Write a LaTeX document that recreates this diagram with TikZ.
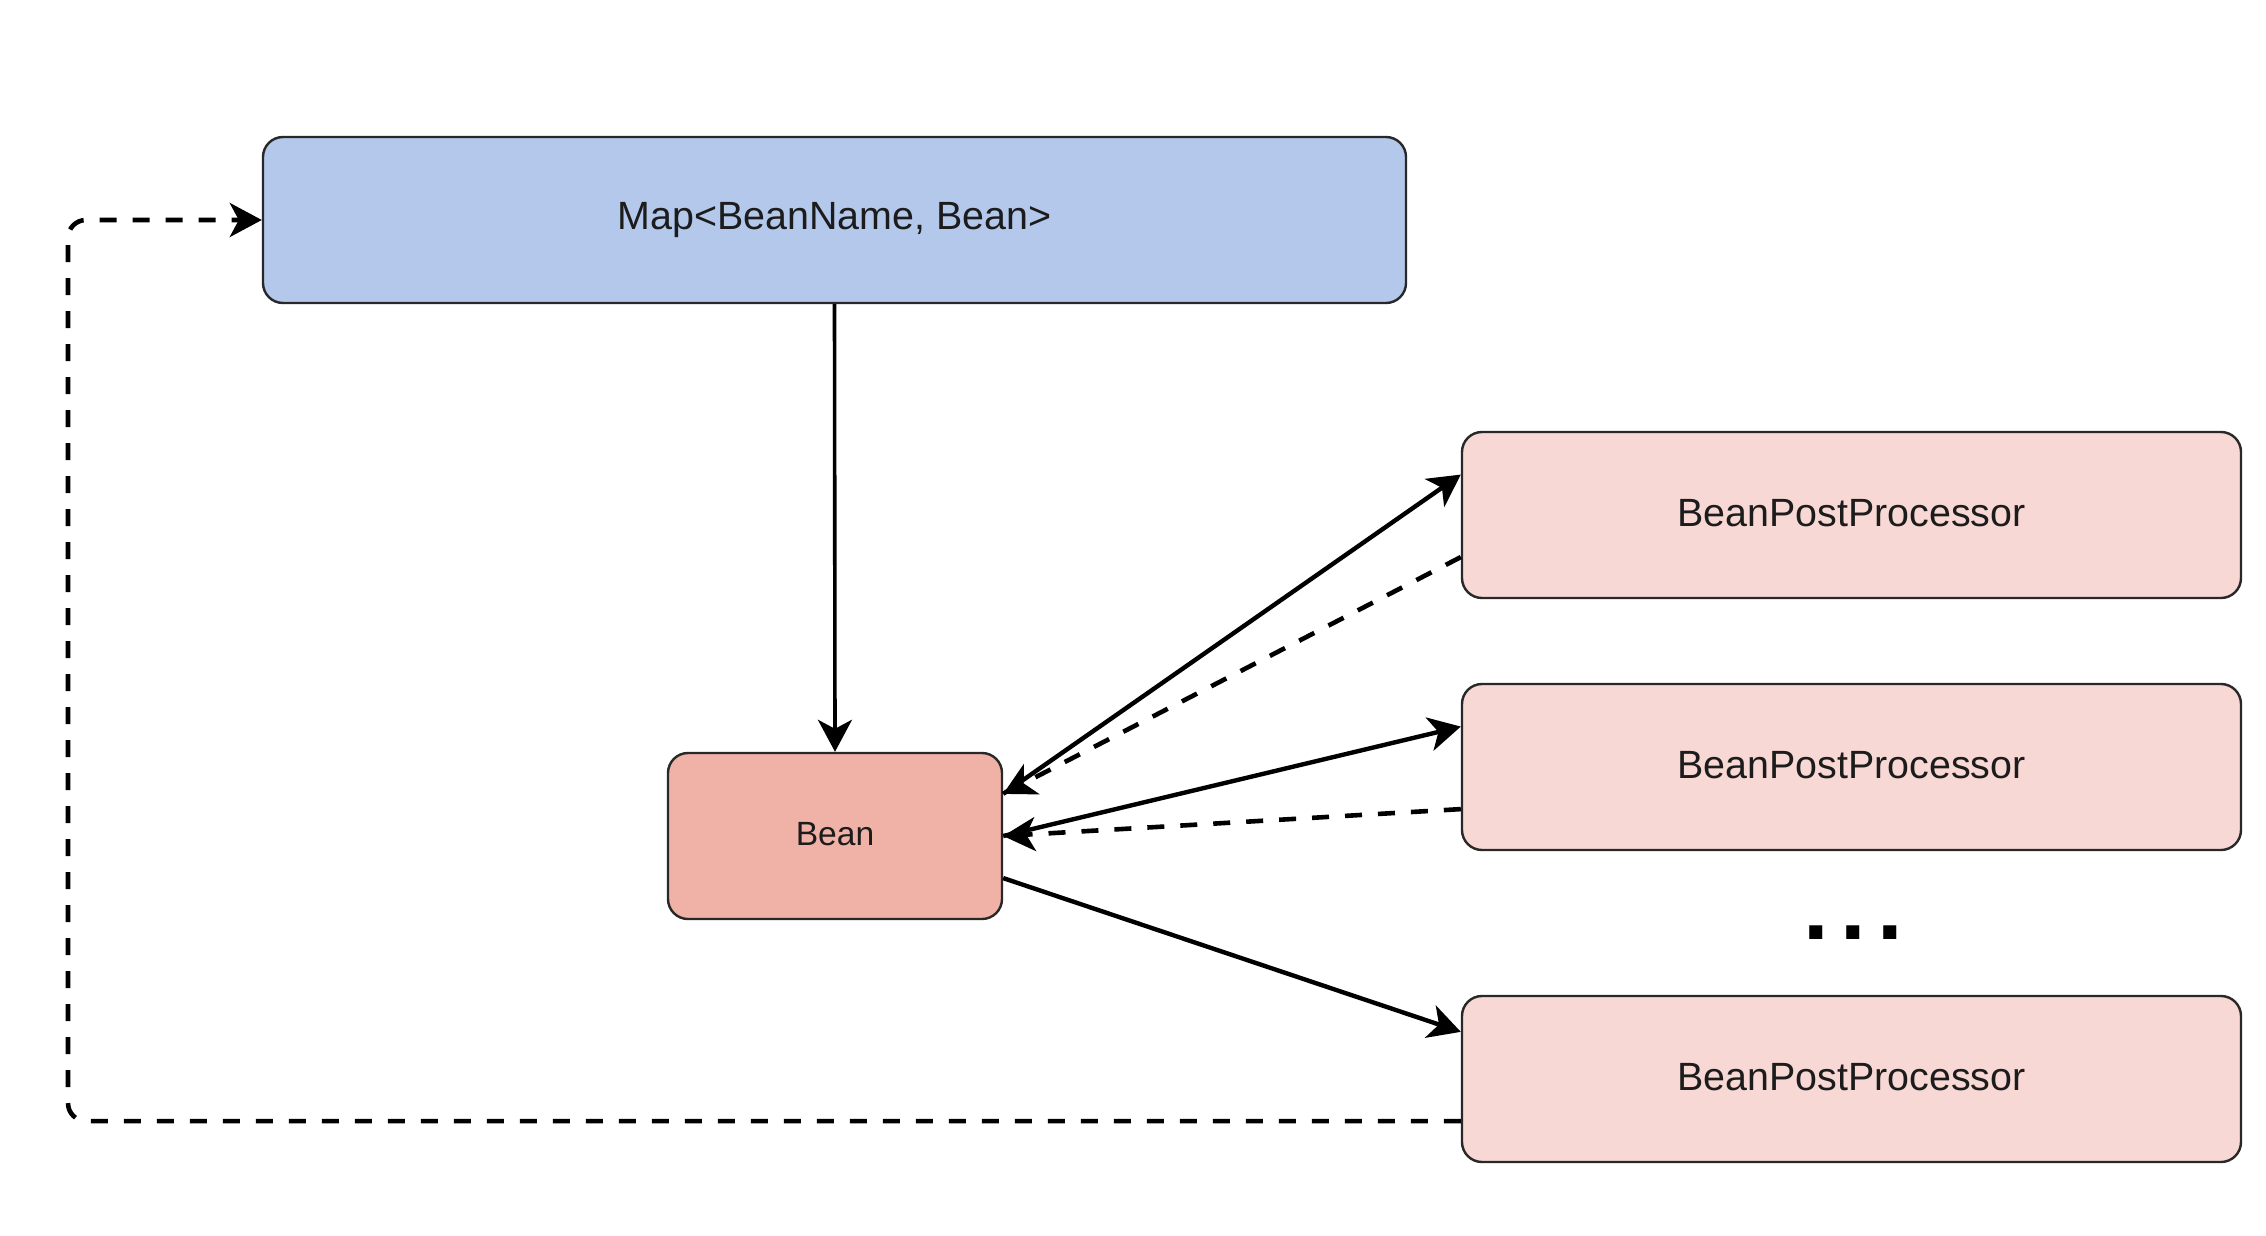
\documentclass[tikz,border=0pt]{standalone}
\usepackage{fontspec}
\setmainfont{Liberation Sans}
\usetikzlibrary{arrows.meta,calc}
\definecolor{mapfill}{RGB}{180,200,236}
\definecolor{beanfill}{RGB}{240,178,166}
\definecolor{bppfill}{RGB}{248,216,212}
\definecolor{boxline}{RGB}{40,40,40}
\definecolor{txt}{RGB}{28,28,28}
\begin{document}
\begin{tikzpicture}[x=0.5pt,y=-0.5pt,
  box/.style={draw=boxline, line width=1.2pt, rounded corners=10pt, inner sep=0pt, text=txt,
              font=\fontsize{19.7pt}{24pt}\selectfont},
  bppbox/.style={box, fill=bppfill, minimum width=389.5pt, minimum height=83pt},
  tip/.style={-{Stealth[length=16pt,width=17pt,inset=4.5pt]}},
  solidline/.style={line width=2.2pt},
  dashline/.style={line width=2.3pt, dash pattern=on 8.5pt off 8pt},
]
\useasboundingbox[fill=white] (0,0) rectangle (2266,1236);

\node[box, fill=mapfill, minimum width=571.5pt, minimum height=83pt] (map) at (834.5,220) {\raisebox{1.5pt}{Map<BeanName, Bean>}};
\node[box, fill=beanfill, minimum width=167pt, minimum height=83pt,
      font=\fontsize{16.8pt}{20pt}\selectfont] (bean) at (835,836) {\raisebox{2pt}{Bean}};
\node[bppbox] (bpp1) at (1851.5,515) {\raisebox{2pt}{BeanPostProcessor}};
\node[bppbox] (bpp2) at (1851.5,767) {\raisebox{2pt}{BeanPostProcessor}};
\node[bppbox] (bpp3) at (1851.5,1079) {\raisebox{2pt}{BeanPostProcessor}};
\node[text=black, inner sep=0pt, font=\bfseries\fontsize{46pt}{46pt}\selectfont] (dots) at (1853,933) {.\hspace{5.7pt}.\hspace{5.7pt}.};

\coordinate (b1) at ($(bean.north east)!0.25!(bean.south east)$);
\coordinate (b2) at ($(bean.north east)!0.5!(bean.south east)$);
\coordinate (b3) at ($(bean.north east)!0.75!(bean.south east)$);
\coordinate (p1a) at ($(bpp1.north west)!0.26!(bpp1.south west)$);
\coordinate (p1b) at ($(bpp1.north west)!0.75!(bpp1.south west)$);
\coordinate (p2a) at ($(bpp2.north west)!0.26!(bpp2.south west)$);
\coordinate (p2b) at ($(bpp2.north west)!0.75!(bpp2.south west)$);
\coordinate (p3a) at ($(bpp3.north west)!0.22!(bpp3.south west)$);
\coordinate (p3b) at ($(bpp3.north west)!0.75!(bpp3.south west)$);
\coordinate (lc) at (68,220);

\draw[line width=1.8pt, tip] (map.south) -- (bean.north);
\draw[solidline, tip] (b1) -- (p1a);
\draw[dashline, tip] (p1b) -- (b1);
\draw[solidline, tip] (b2) -- (p2a);
\draw[dashline, tip] (p2b) -- (b2);
\draw[solidline, tip] (b3) -- (p3a);
\draw[dashline, tip, rounded corners=9pt] (p3b) -| (lc) -- (map.west);
\end{tikzpicture}
\end{document}
